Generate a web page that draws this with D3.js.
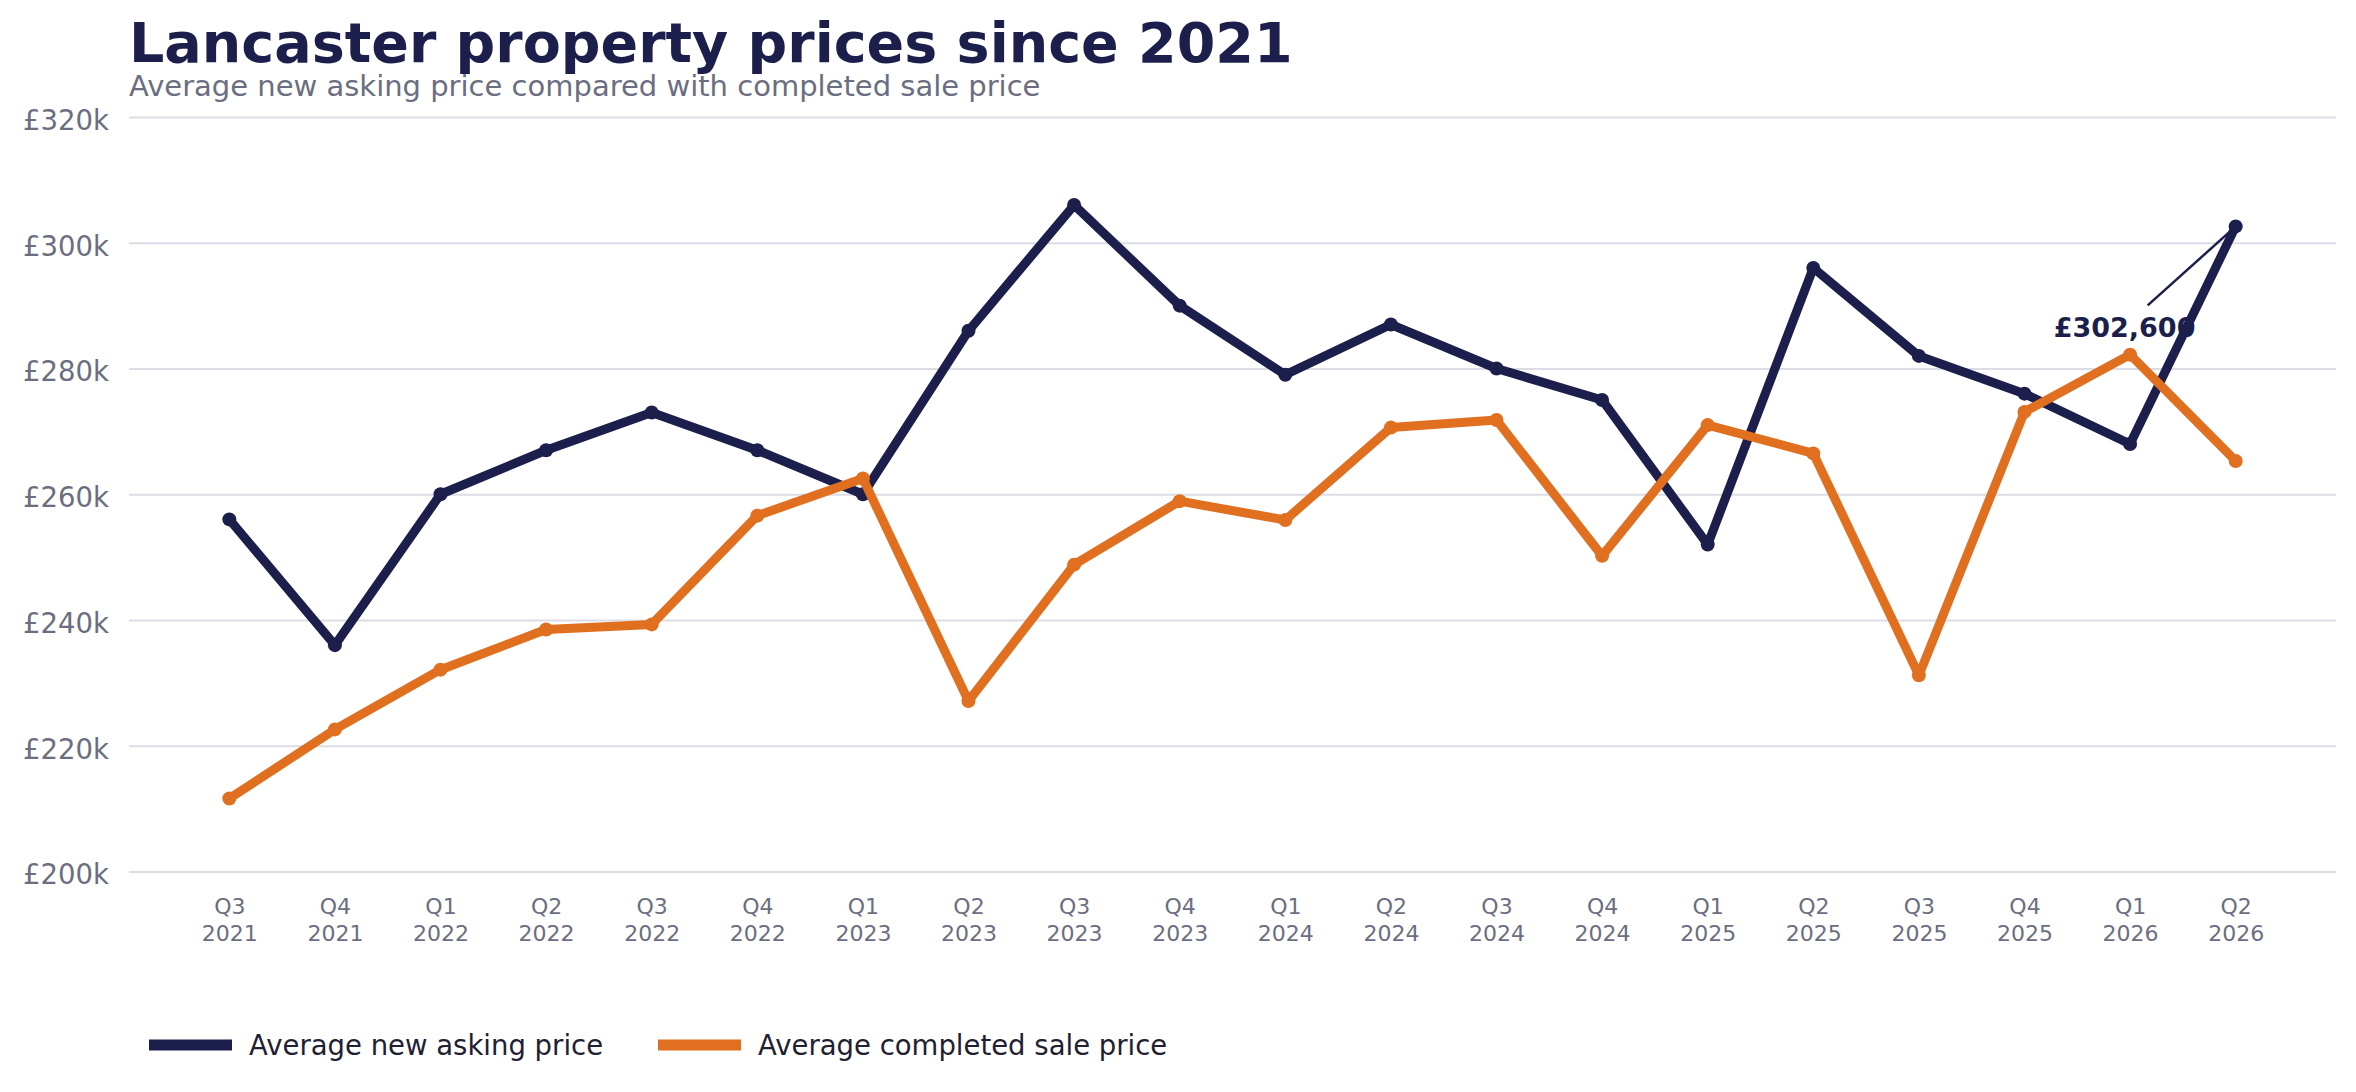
<!doctype html>
<html>
    <head>
        <title>Lancaster property prices</title>
        <script src="https://d3js.org/d3.v7.min.js"></script>
        <style>
            body { margin: 0; background: #fff; }
            text { font-family: "DejaVu Sans", sans-serif; }
        </style>
    </head>

    <body>
        <div id="chart"></div>
        <script>
            // data (thousands of pounds)
            var quarters = ["Q3 2021", "Q4 2021", "Q1 2022", "Q2 2022", "Q3 2022", "Q4 2022",
                            "Q1 2023", "Q2 2023", "Q3 2023", "Q4 2023", "Q1 2024", "Q2 2024",
                            "Q3 2024", "Q4 2024", "Q1 2025", "Q2 2025", "Q3 2025", "Q4 2025",
                            "Q1 2026", "Q2 2026"];
            var askingPrice = [256, 236, 260, 267, 273, 267, 260, 286, 306, 290,
                               279, 287, 280, 275, 252, 296, 282, 276, 268, 302.6];
            var salePrice = [211.6, 222.6, 232.1, 238.5, 239.3, 256.6, 262.5, 227.1, 248.8, 258.9,
                             255.9, 270.6, 271.8, 250.2, 271.0, 266.5, 231.2, 273.1, 282.2, 265.3];
            var yTicks = [200, 220, 240, 260, 280, 300, 320];
            var seriesNames = ["Average new asking price", "Average completed sale price"];

            var navy = "#1c1f4b", orange = "#e06f1f";
            var W = 2356, H = 1092;
            var plotLeft = 129, plotRight = 2336, plotTop = 117, plotBottom = 871.5;

            var svg = d3.select("#chart").append("svg")
                .attr("width", W)
                .attr("height", H);

            // scales
            var x = d3.scalePoint()
                .domain(quarters)
                .range([plotLeft, plotRight])
                .padding(0.95);
            var y = d3.scaleLinear()
                .domain([200, 320])
                .range([plotBottom, plotTop]);

            // gridlines + y labels
            var yAxis = svg.append("g")
                .attr("transform", "translate(" + plotLeft + ",0)")
                .call(d3.axisLeft(y).tickValues(yTicks)
                    .tickSize(-(plotRight - plotLeft))
                    .tickPadding(20)
                    .tickFormat(function(d) { return "£" + d + "k"; }));
            yAxis.select(".domain").remove();
            yAxis.selectAll(".tick line")
                .attr("stroke", "#dcdce6")
                .attr("stroke-width", 2);
            yAxis.selectAll(".tick text")
                .attr("fill", "#6b6e80")
                .attr("font-size", 27.5)
                .attr("dy", "0.45em");

            // x labels, two lines each
            var xAxis = svg.append("g")
                .attr("transform", "translate(0," + plotBottom + ")")
                .call(d3.axisBottom(x).tickSize(0).tickFormat(""));
            xAxis.select(".domain").remove();
            xAxis.selectAll(".tick").append("text")
                .attr("fill", "#6b6e80")
                .attr("font-size", 22)
                .attr("text-anchor", "middle")
                .each(function(d) {
                    var parts = d.split(" ");
                    var t = d3.select(this);
                    t.append("tspan").attr("x", 0).attr("y", 42).text(parts[0]);
                    t.append("tspan").attr("x", 0).attr("y", 69).text(parts[1]);
                });

            // lines
            var line = d3.line()
                .x(function(d, i) { return x(quarters[i]); })
                .y(function(d) { return y(d); });

            [[askingPrice, navy], [salePrice, orange]].forEach(function(s) {
                svg.append("path")
                    .datum(s[0])
                    .attr("fill", "none")
                    .attr("stroke", s[1])
                    .attr("stroke-width", 9)
                    .attr("stroke-linejoin", "round")
                    .attr("d", line);
                svg.append("g").selectAll("circle")
                    .data(s[0])
                    .join("circle")
                    .attr("cx", function(d, i) { return x(quarters[i]); })
                    .attr("cy", function(d) { return y(d); })
                    .attr("r", 7)
                    .attr("fill", s[1]);
            });

            // annotation on the last asking price
            var last = askingPrice.length - 1;
            var px = x(quarters[last]), py = y(askingPrice[last]);
            svg.append("line")
                .attr("x1", px - 88).attr("y1", py + 79)
                .attr("x2", px).attr("y2", py)
                .attr("stroke", navy)
                .attr("stroke-width", 2.5);
            svg.append("text")
                .attr("x", px - 182)
                .attr("y", py + 111)
                .attr("fill", navy)
                .attr("font-size", 27)
                .attr("font-weight", "bold")
                .text("£" + d3.format(",")(askingPrice[last] * 1000));

            // title
            svg.append("text")
                .attr("x", plotLeft).attr("y", 62)
                .attr("fill", navy)
                .attr("font-size", 55.5)
                .attr("font-weight", "bold")
                .text("Lancaster property prices since 2021");
            svg.append("text")
                .attr("x", plotLeft).attr("y", 96)
                .attr("fill", "#6b6e80")
                .attr("font-size", 29)
                .text("Average new asking price compared with completed sale price");

            // legend
            var legendX = [149, 658];
            var legend = svg.append("g").selectAll("g")
                .data(seriesNames)
                .join("g")
                .attr("transform", function(d, i) { return "translate(" + legendX[i] + ",1045)"; });
            legend.append("line")
                .attr("x1", 0).attr("x2", 83)
                .attr("stroke", function(d, i) { return i ? orange : navy; })
                .attr("stroke-width", 11);
            legend.append("circle")
                .attr("cx", 41).attr("r", 5)
                .attr("fill", function(d, i) { return i ? orange : navy; });
            legend.append("text")
                .attr("x", 100).attr("y", 10)
                .attr("fill", "#1f2133")
                .attr("font-size", 27.5)
                .text(function(d) { return d; });
        </script>
    </body>
</html>
